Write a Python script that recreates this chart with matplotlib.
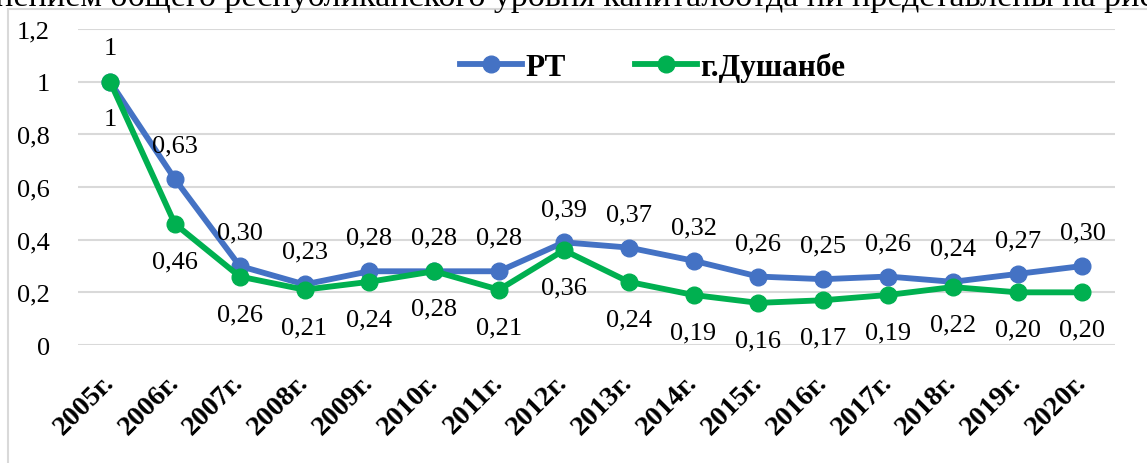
import numpy as np
import matplotlib
matplotlib.use('Agg')
import matplotlib.pyplot as plt
from matplotlib.patches import Rectangle

years = ['2005г.', '2006г.', '2007г.', '2008г.', '2009г.', '2010г.', '2011г.', '2012г.',
         '2013г.', '2014г.', '2015г.', '2016г.', '2017г.', '2018г.', '2019г.', '2020г.']
rt = [1, 0.63, 0.30, 0.23, 0.28, 0.28, 0.28, 0.39, 0.37, 0.32, 0.26, 0.25, 0.26, 0.24, 0.27, 0.30]
dushanbe = [1, 0.46, 0.26, 0.21, 0.24, 0.28, 0.21, 0.36, 0.24, 0.19, 0.16, 0.17, 0.19, 0.22, 0.20, 0.20]
yticks = [0, 0.2, 0.4, 0.6, 0.8, 1, 1.2]
ytick_labels = ['0', '0,2', '0,4', '0,6', '0,8', '1', '1,2']

blue = '#4472C4'
green = '#00B050'
grid = '#D9D9D9'

plt.rcParams['font.family'] = ['Liberation Serif', 'DejaVu Serif']

fig = plt.figure(figsize=(11.47, 4.64), dpi=100)
ax = fig.add_axes([0.0677, 0.2543, 0.9043, 0.681])

# chart border (cut off on the right and bottom)
fig.patches.append(Rectangle((8 / 1147, -0.1), 1.2, 1.1 - 10 / 464, transform=fig.transFigure,
                             fill=False, edgecolor=grid, linewidth=1.5, zorder=0))

# caption line above, cut off by the image edge as in the source
fig.text(-0.004, 1 - 6 / 464, 'нением общего республиканского уровня капиталоотда ни представлены на рис',
         fontsize=24.5, va='baseline', ha='left')

x = np.arange(len(years))
ax.plot(x, rt, color=blue, lw=4.2, marker='o', markersize=12, label='РТ', zorder=3)
ax.plot(x, dushanbe, color=green, lw=4.2, marker='o', markersize=12, label='г.Душанбе', zorder=4)

def fmt(v):
    return '1' if v == 1 else ('%.2f' % v).replace('.', ',')

for i in range(len(years)):
    ax.annotate(fmt(rt[i]), (x[i], rt[i]), xytext=(0, 24), textcoords='offset points',
                ha='center', va='center', fontsize=19)
    ax.annotate(fmt(dushanbe[i]), (x[i], dushanbe[i]), xytext=(0, -27), textcoords='offset points',
                ha='center', va='center', fontsize=19)

ax.set_xlim(-0.5, len(years) - 0.5)
ax.set_ylim(0, 1.2)
ax.set_yticks(yticks)
ax.set_yticklabels(ytick_labels, fontsize=19)
ax.set_xticks(x)
ax.set_xticklabels(years, fontsize=20.5, fontweight='bold', rotation=45, ha='right', va='center',
                   rotation_mode='anchor')
ax.tick_params(axis='y', length=0, pad=20)
ax.tick_params(axis='x', length=0, pad=24)
ax.yaxis.grid(True, color=grid, lw=1.5)
ax.set_axisbelow(True)
for s in ax.spines.values():
    s.set_visible(False)
ax.patch.set_alpha(0)

fig.legend(loc='center', bbox_to_anchor=(0.569, 1 - 68 / 464), ncol=2, frameon=False,
           prop={'size': 22.5, 'weight': 'bold'}, handlelength=2.0, handletextpad=0.1,
           columnspacing=2.2)

fig.savefig('out.png', dpi=100)
